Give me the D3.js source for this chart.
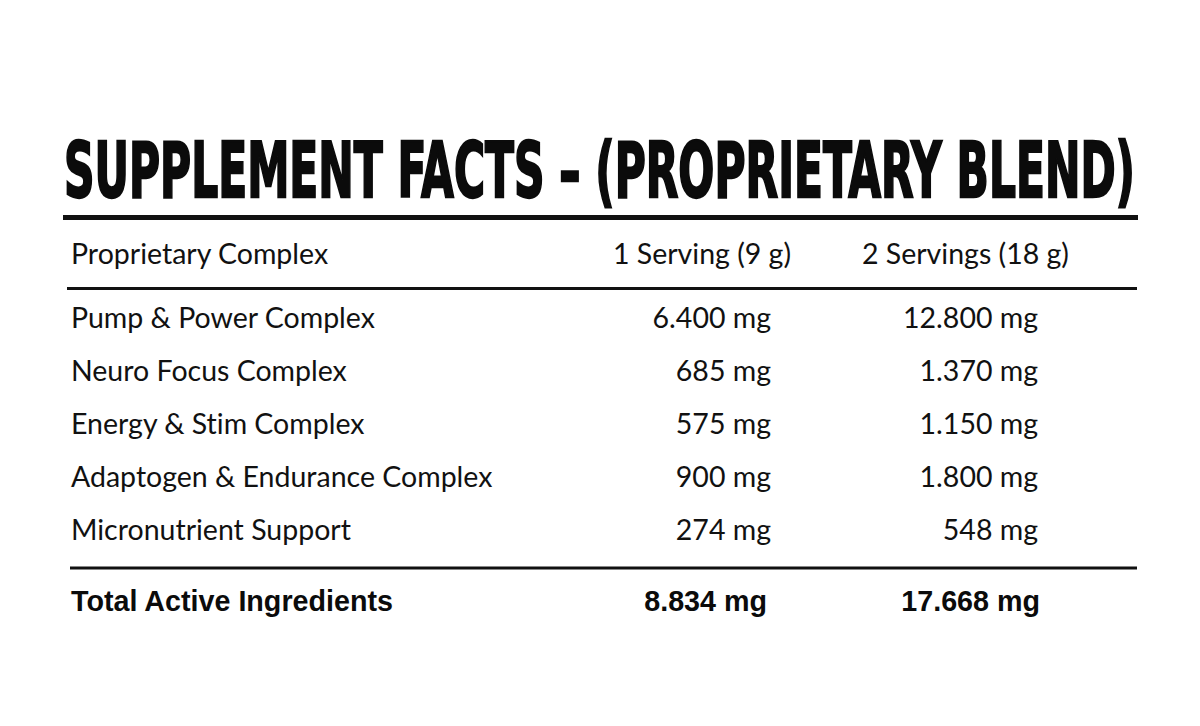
<!DOCTYPE html>
<html>
<head>
<meta charset="utf-8">
<script src="https://cdn.jsdelivr.net/npm/d3@7"></script>
<style>
  body { margin: 0; background: #fff; }
  svg { display: block; }
  text { font-variant-ligatures: none; }
</style>
</head>
<body>
<div id="chart"></div>
<script>
const titleText = 'SUPPLEMENT FACTS – (PROPRIETARY BLEND)';
const headers = ['Proprietary Complex', '1 Serving (9 g)', '2 Servings (18 g)'];
const complexes = ['Pump & Power Complex', 'Neuro Focus Complex', 'Energy & Stim Complex', 'Adaptogen & Endurance Complex', 'Micronutrient Support'];
const oneServing = [6400, 685, 575, 900, 274];
const twoServings = [12800, 1370, 1150, 1800, 548];
const totalLabel = 'Total Active Ingredients';

var width = 1200, height = 726;

var locale = d3.formatLocale({decimal: ',', thousands: '.', grouping: [3], currency: ['', '']});
var fmt = locale.format(',d');

var svg = d3.select('#chart')
            .append('svg')
            .attr('width', width)
            .attr('height', height);

svg.append('rect').attr('width', width).attr('height', height).attr('fill', '#fff');

// title: condensed bold, stretched up to look like the poster face
svg.append('g')
   .attr('transform', 'translate(64,197) scale(1,1.75)')
   .append('text')
   .attr('x', 0)
   .attr('y', 0)
   .attr('textLength', 1071)
   .attr('lengthAdjust', 'spacingAndGlyphs')
   .style('font-family', '"Liberation Sans Narrow", "DejaVu Sans Condensed", sans-serif')
   .style('font-weight', 'bold')
   .style('font-size', '44px')
   .attr('fill', '#0b0b0b')
   .attr('stroke', '#0b0b0b')
   .attr('stroke-width', 1.3)
   .text(titleText);

// rules
var rules = [
  {x1: 63, x2: 1138, y: 217.5, w: 5},
  {x1: 67, x2: 1137, y: 288.5, w: 3},
  {x1: 70, x2: 1137, y: 568, w: 3}
];
svg.selectAll('line.rule')
   .data(rules)
   .enter()
   .append('line')
   .attr('class', 'rule')
   .attr('x1', d => d.x1).attr('x2', d => d.x2)
   .attr('y1', d => d.y).attr('y2', d => d.y)
   .attr('stroke', '#111')
   .attr('stroke-width', d => d.w);

var lato = 'Lato, "Open Sans", sans-serif';

// header row
var headX = [71, 613, 862];
svg.selectAll('text.head')
   .data(headers)
   .enter()
   .append('text')
   .attr('class', 'head')
   .attr('x', (d, i) => headX[i])
   .attr('y', 264)
   .style('font-family', lato)
   .style('font-size', '28.5px')
   .attr('fill', '#111')
   .text(d => d);

// body rows
var y = d3.scalePoint()
          .domain(complexes)
          .range([328, 540]);

var rows = svg.selectAll('g.row')
              .data(complexes.map((c, i) => ({name: c, a: oneServing[i], b: twoServings[i]})))
              .enter()
              .append('g')
              .attr('class', 'row')
              .attr('transform', d => 'translate(0,' + y(d.name) + ')')
              .style('font-family', lato)
              .style('font-size', '28.5px')
              .attr('fill', '#111');

rows.append('text').attr('x', 71).text(d => d.name);
rows.append('text').attr('x', 771).attr('text-anchor', 'end').text(d => fmt(d.a) + ' mg');
rows.append('text').attr('x', 1038).attr('text-anchor', 'end').text(d => fmt(d.b) + ' mg');

// total row
var total = svg.append('g')
               .attr('transform', 'translate(0,611)')
               .style('font-family', '"Liberation Sans", Arial, sans-serif')
               .style('font-weight', 'bold')
               .style('font-size', '28.7px')
               .attr('fill', '#0b0b0b');

total.append('text').attr('x', 71).text(totalLabel);
total.append('text').attr('x', 767).attr('text-anchor', 'end').text(fmt(d3.sum(oneServing)) + ' mg');
total.append('text').attr('x', 1040).attr('text-anchor', 'end').text(fmt(d3.sum(twoServings)) + ' mg');
</script>
</body>
</html>
